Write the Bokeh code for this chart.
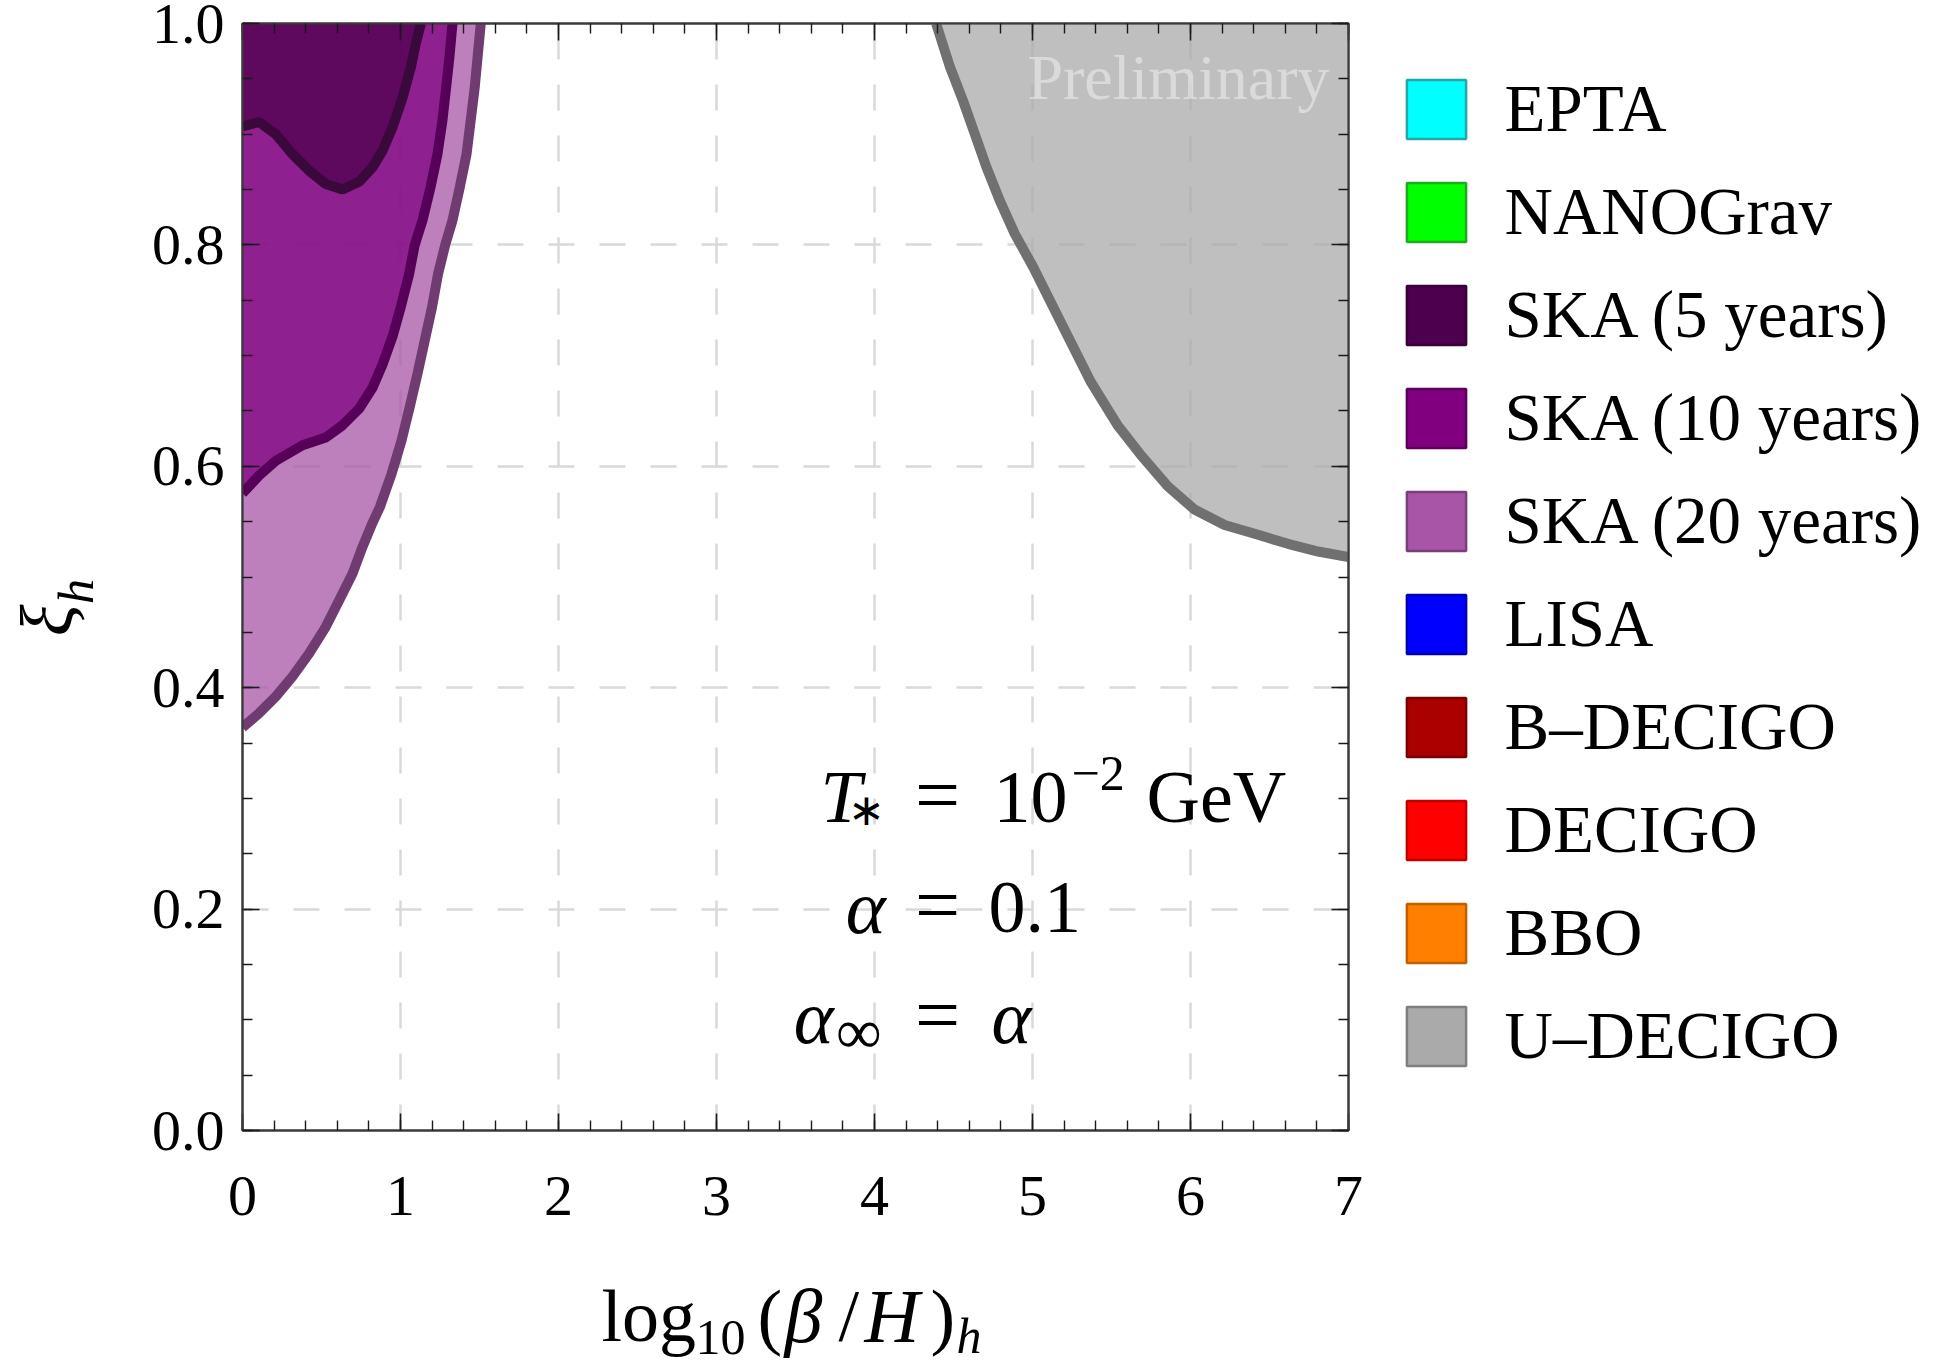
from math import pi
from bokeh.plotting import figure
from bokeh.layouts import row, column
from bokeh.models import (Range1d, LinearAxis, FixedTicker, Label, Legend, LegendItem,
                          PrintfTickFormatter, CustomJSTickFormatter)
from bokeh.embed import file_html
from bokeh.resources import INLINE

FONT = "Liberation Serif"
NAN = float("nan")

# ---------------- axis ticks ----------------
x_major = [0, 1, 2, 3, 4, 5, 6, 7]
y_major = [0.0, 0.2, 0.4, 0.6, 0.8, 1.0]
x_minor = [i / 5 for i in range(0, 36)]
y_minor = [i / 20 for i in range(0, 21)]
X_MIN, X_MAX, Y_MIN, Y_MAX = 0, 7, 0, 1

# ---------------- data ----------------
ska20_x = [0.0, 0.105, 0.211, 0.316, 0.422, 0.527, 0.612, 0.696, 0.759, 0.82, 0.869, 0.943,
           1.006, 1.059, 1.108, 1.154, 1.2, 1.238, 1.283, 1.329, 1.375, 1.418, 1.47, 1.508]
ska20_y = [0.364, 0.377, 0.392, 0.410, 0.431, 0.455, 0.479, 0.503, 0.527, 0.548, 0.563, 0.593,
           0.623, 0.654, 0.684, 0.714, 0.744, 0.774, 0.80, 0.822, 0.852, 0.882, 0.9425, 1.0]

ska10_x = [0.0, 0.105, 0.211, 0.380, 0.527, 0.633, 0.738, 0.823, 0.886, 0.949, 1.002, 1.055,
           1.090, 1.139, 1.19, 1.234, 1.265, 1.289, 1.31, 1.329]
ska10_y = [0.5755, 0.5917, 0.605, 0.619, 0.626, 0.637, 0.652, 0.671, 0.692, 0.717, 0.744, 0.774,
           0.80, 0.822, 0.852, 0.882, 0.912, 0.9425, 0.97, 1.0]

ska5_x = [0.0, 0.105, 0.211, 0.316, 0.422, 0.527, 0.633, 0.738, 0.823, 0.886, 0.949, 1.013,
          1.065, 1.097, 1.129]
ska5_y = [0.907, 0.911, 0.900, 0.882, 0.867, 0.855, 0.850, 0.857, 0.870, 0.885, 0.906, 0.933,
          0.960, 0.982, 1.0]

udecigo_x = [4.39, 4.477, 4.561, 4.635, 4.709, 4.793, 4.888, 5.004, 5.099, 5.222, 5.370, 5.539,
             5.687, 5.856, 6.025, 6.216, 6.406, 6.617, 6.808, 7.0]
udecigo_y = [1.0, 0.961, 0.930, 0.900, 0.870, 0.840, 0.810, 0.780, 0.753, 0.718, 0.676, 0.637,
             0.610, 0.582, 0.561, 0.547, 0.539, 0.530, 0.523, 0.518]

leg_names = ["EPTA", "NANOGrav", "SKA (5 years)", "SKA (10 years)", "SKA (20 years)",
             "LISA", "B\u2013DECIGO", "DECIGO", "BBO", "U\u2013DECIGO"]
leg_fill = ["#00ffff", "#00ff00", "#4d004d", "#800080", "#a855a8",
            "#0000ff", "#aa0000", "#ff0000", "#ff8000", "#aaaaaa"]
leg_line = ["#22a8a8", "#22a822", "#3a003a", "#5c005c", "#7a3f7a",
            "#0000b0", "#7a0000", "#c00000", "#c05f00", "#7f7f7f"]

# ---------------- layout sizes (pixels) ----------------
FRAME_L, FRAME_T, FRAME_W, FRAME_H = 241, 23, 1106, 1107
FRAME_B = FRAME_T + FRAME_H          # 1130
YLAB_W = 148
MAIN_RIGHT = 20
MAIN_BOTTOM = 117
MAIN_H = FRAME_B + MAIN_BOTTOM
TOTAL_H = 1364
TOTAL_W = 1938
MAIN_W = (FRAME_L - YLAB_W) + FRAME_W + MAIN_RIGHT
LEG_X0 = YLAB_W + MAIN_W             # left edge of the legend figure
LEG_W = TOTAL_W - LEG_X0
BASE_SHIFT = 0.34   # label baseline correction (fraction of font size)

# ---------------- main figure ----------------
p = figure(frame_width=FRAME_W, frame_height=FRAME_H,
           x_range=Range1d(X_MIN, X_MAX), y_range=Range1d(Y_MIN, Y_MAX),
           output_backend="svg", toolbar_location=None,
           min_border_left=FRAME_L - YLAB_W, min_border_top=FRAME_T,
           min_border_bottom=MAIN_BOTTOM, min_border_right=MAIN_RIGHT)
p.background_fill_color = "white"
p.border_fill_color = "white"
p.outline_line_color = "#3a3a3a"
p.outline_line_width = 2

for g, tk in ((p.xgrid, x_major), (p.ygrid, y_major)):
    g.ticker = FixedTicker(ticks=tk)
    g.grid_line_color = "#d9d9d9"
    g.grid_line_width = 2.5
    g.grid_line_dash = "26 25"

regions = [
    (ska20_x, ska20_y, "#a755a7", "#6f3b70", "left"),
    (ska10_x, ska10_y, "#800080", "#56005a", "left"),
    (ska5_x, ska5_y, "#4d004d", "#3b083b", "left"),
    (udecigo_x, udecigo_y, "#aaaaaa", "#707070", "right"),
]
for xs, ys, fc, lc, side in regions:
    corner_x = X_MIN if side == "left" else X_MAX
    p.patch(xs + [corner_x], ys + [Y_MAX], fill_color=fc, fill_alpha=0.75, line_color=None)
    p.line(xs, ys, line_color=lc, line_width=10)

def style_axis(ax, major, minor, labels, fmt=None):
    ax.ticker = FixedTicker(ticks=major, minor_ticks=minor)
    ax.major_tick_in = 17
    ax.major_tick_out = 0
    ax.minor_tick_in = 10
    ax.minor_tick_out = 0
    ax.axis_line_color = "#3a3a3a"
    ax.axis_line_width = 2
    ax.major_tick_line_color = "#1a1a1a"
    ax.major_tick_line_width = 1.6
    ax.minor_tick_line_color = "#1a1a1a"
    ax.minor_tick_line_width = 1.4
    if labels:
        ax.formatter = fmt
        ax.major_label_text_font = FONT
        ax.major_label_text_font_size = "58px"
        ax.major_label_text_color = "black"
    else:
        ax.formatter = CustomJSTickFormatter(code="return ''")
        ax.major_label_text_font_size = "0px"
        ax.major_label_standoff = 0

style_axis(p.xaxis[0], x_major, x_minor, True, PrintfTickFormatter(format="%d"))
p.xaxis[0].major_label_standoff = 46
style_axis(p.yaxis[0], y_major, y_minor, True, PrintfTickFormatter(format="%.1f"))
p.yaxis[0].major_label_standoff = 18

top_ax = LinearAxis()
p.add_layout(top_ax, "above")
style_axis(top_ax, x_major, x_minor, False)
right_ax = LinearAxis()
p.add_layout(right_ax, "right")
style_axis(right_ax, y_major, y_minor, False)

# ---------------- text helper ----------------
def lab(fig, text, x, y, size, italic=False, align="left", xo=0, yo=0, units="data",
        color="black", alpha=1.0, angle=0.0):
    if angle == 0.0:
        yo = yo + BASE_SHIFT * size
    else:
        xo = xo - BASE_SHIFT * size
    fig.add_layout(Label(x=x, y=y, x_units=units, y_units=units, text=text,
                         x_offset=xo, y_offset=yo,
                         text_font=FONT, text_font_size=f"{size}px",
                         text_font_style="italic" if italic else "normal",
                         text_align=align, text_baseline="alphabetic",
                         text_color=color, text_alpha=alpha, angle=angle))

lab(p, "Preliminary", 6.88, 0.932, 64, align="right", color="white", alpha=0.42)

EQ_X = 4.399
L1, L2, L3 = 0.2782, 0.1789, 0.0795
# T_* = 10^-2 GeV
lab(p, "T", EQ_X, L1, 74, italic=True, align="right", xo=-76)
lab(p, "\u2217", EQ_X, L1, 44, align="right", xo=-53, yo=-3)
lab(p, "=", EQ_X, L1, 80, align="center")
lab(p, "10", EQ_X, L1, 74, xo=56)
lab(p, "\u22122", EQ_X, L1, 50, xo=134, yo=32)
lab(p, "GeV", EQ_X, L1, 74, xo=209)
# alpha = 0.1
lab(p, "\u03b1", EQ_X, L2, 76, italic=True, align="right", xo=-52)
lab(p, "=", EQ_X, L2, 80, align="center")
lab(p, "0.1", EQ_X, L2, 74, xo=51)
# alpha_inf = alpha
lab(p, "\u03b1", EQ_X, L3, 76, italic=True, align="right", xo=-104)
lab(p, "\u221e", EQ_X, L3, 64, align="right", xo=-56, yo=-11)
lab(p, "=", EQ_X, L3, 80, align="center")
lab(p, "\u03b1", EQ_X, L3, 76, italic=True, xo=54)

# ---------------- side figures ----------------
def side_fig(w):
    f = figure(frame_width=w, frame_height=FRAME_H, x_range=Range1d(0, 1), y_range=Range1d(0, 1),
               output_backend="svg", toolbar_location=None,
               min_border_left=0, min_border_right=0,
               min_border_top=FRAME_T, min_border_bottom=MAIN_BOTTOM,
               x_axis_location=None, y_axis_location=None)
    f.outline_line_color = None
    f.grid.visible = False
    f.background_fill_color = "white"
    f.border_fill_color = "white"
    return f

# y label: xi_h (rotated), positions relative to the frame bottom
ylab = side_fig(YLAB_W)
lab(ylab, "\u03be", 72, FRAME_B - 620, 74, italic=True, align="center", units="screen", angle=pi / 2)
lab(ylab, "h", 92, FRAME_B - 591, 50, italic=True, align="center", units="screen", angle=pi / 2)

# legend figure (legend glyph squares are drawn at 80% of the glyph box)
GLYPH_BOX = 74
GLYPH_INSET = 0.1 * GLYPH_BOX
legf = side_fig(LEG_W)
leg_items = []
for name, fc, lc in zip(leg_names, leg_fill, leg_line):
    r = legf.quad(left=[NAN], right=[NAN], bottom=[NAN], top=[NAN],
                  fill_color=fc, line_color=lc, line_width=2.5)
    leg_items.append(LegendItem(label=name, renderers=[r]))
legend = Legend(items=leg_items,
                location=(1409 - GLYPH_INSET - LEG_X0 - 4, FRAME_B - 1074),
                glyph_width=GLYPH_BOX, glyph_height=GLYPH_BOX, label_height=59,
                label_standoff=int(1508 - (1409 - GLYPH_INSET + GLYPH_BOX)),
                spacing=26, padding=4, margin=0,
                label_text_font=FONT, label_text_font_size="67px", label_text_color="black",
                border_line_color=None, background_fill_alpha=0)
legf.add_layout(legend, "center")

# x label figure (bottom)
XLAB_H = TOTAL_H - MAIN_H
xlab = figure(frame_width=TOTAL_W, frame_height=XLAB_H, x_range=Range1d(0, 1), y_range=Range1d(0, 1),
              output_backend="svg", toolbar_location=None, min_border=0,
              x_axis_location=None, y_axis_location=None)
xlab.outline_line_color = None
xlab.grid.visible = False
xlab.background_fill_color = "white"
xlab.border_fill_color = "white"
XB = TOTAL_H - 1341
lab(xlab, "log", 601, XB, 74, units="screen")
lab(xlab, "10", 695, XB - 13, 50, units="screen")
lab(xlab, "(", 757, XB, 74, units="screen")
lab(xlab, "\u03b2", 784, XB, 76, italic=True, units="screen")
lab(xlab, "/", 838, XB, 74, units="screen")
lab(xlab, "H", 864, XB, 76, italic=True, units="screen")
lab(xlab, ")", 930, XB, 74, units="screen")
lab(xlab, "h", 956, XB - 11, 50, italic=True, units="screen")

layout = column(row(ylab, p, legf), xlab)
open("out.html", "w").write(file_html(layout, INLINE))
